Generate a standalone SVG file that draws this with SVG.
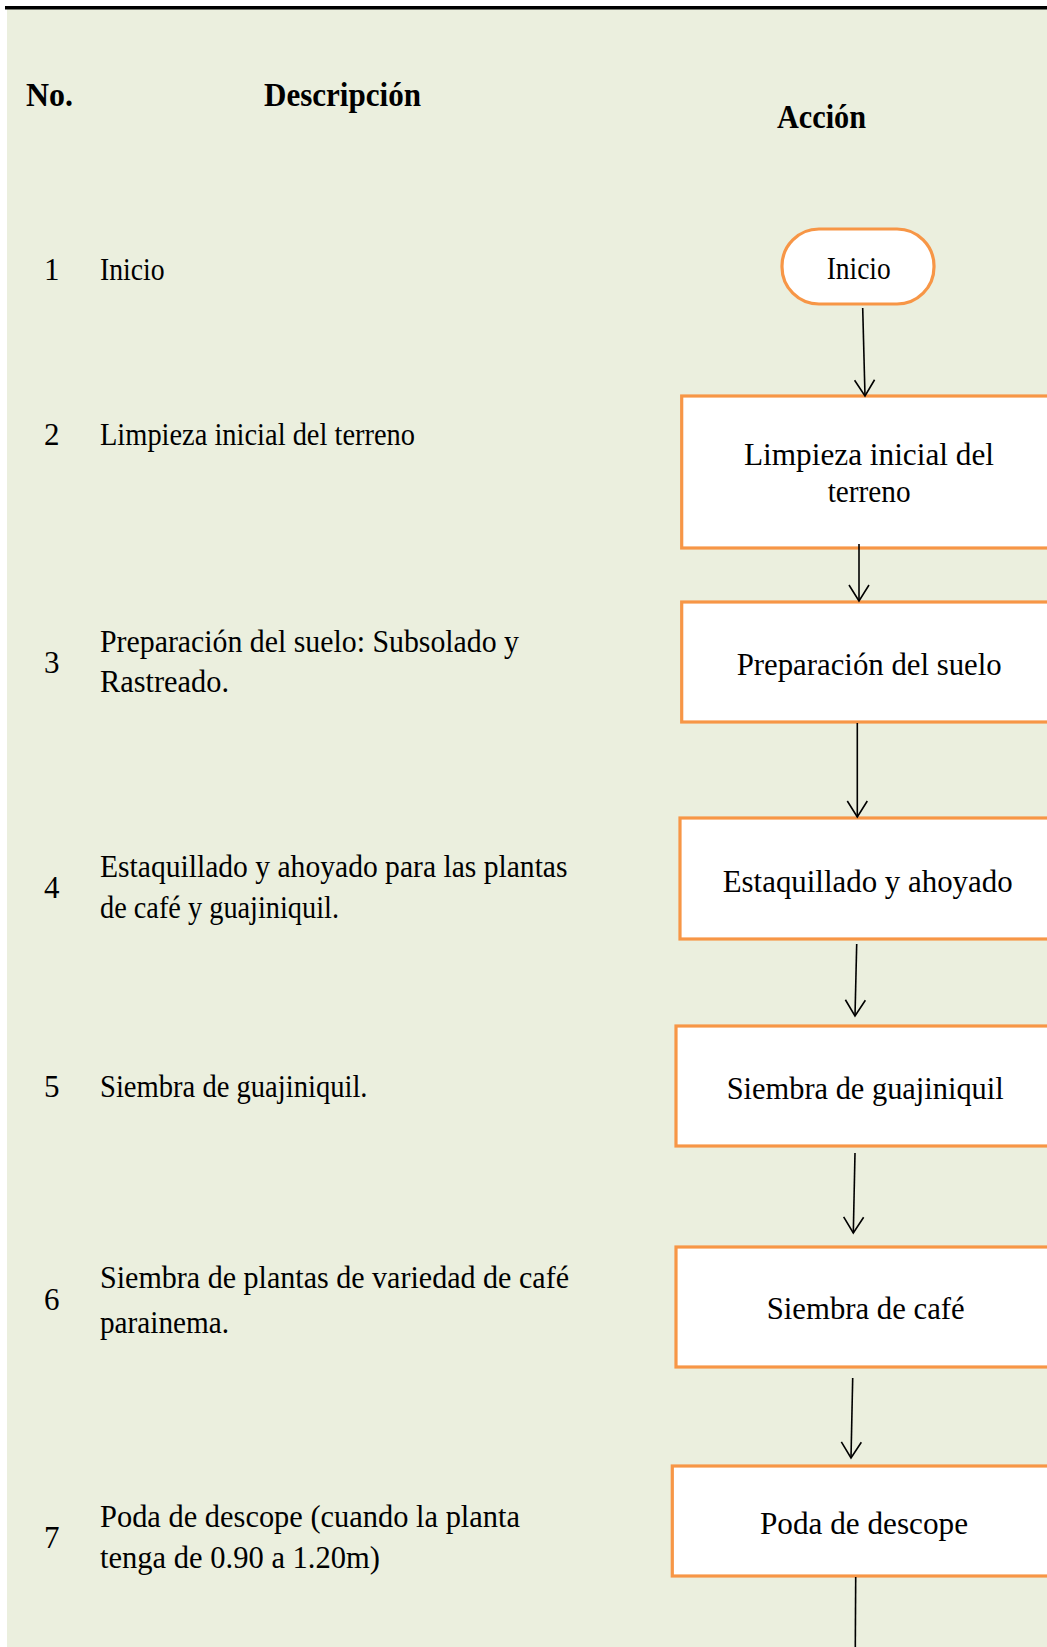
<svg xmlns="http://www.w3.org/2000/svg" width="1047" height="1647" viewBox="0 0 1047 1647">
  <style>
    .hdr { font-family: "Liberation Serif", "Times New Roman", Times, serif; font-weight: bold; font-size: 33px; fill: #000; }
    .txt { font-family: "Liberation Serif", "Times New Roman", Times, serif; font-size: 31px; fill: #000; }
    .box { fill: #FFFFFF; stroke: #F79646; stroke-width: 3.2; }
    .conn { stroke: #000; stroke-width: 1.6; fill: none; }
  </style>
  <defs>
    <marker id="arrow" markerUnits="userSpaceOnUse" markerWidth="20" markerHeight="24" refX="17" refY="11" orient="auto" viewBox="0 0 20 22">
      <path d="M1,1 L17,11 L1,21" fill="none" stroke="#000" stroke-width="1.6"/>
    </marker>
  </defs>

  <rect x="0" y="0" width="1047" height="1647" fill="#FFFFFF"/>
  <rect id="background" x="7" y="9" width="1040" height="1638" fill="#EBEFDE"/>
  <rect id="top-rule" x="5" y="6" width="1042" height="3.5" fill="#000"/>

  <g id="headers">
    <text class="hdr" x="26" y="106" textLength="47" lengthAdjust="spacingAndGlyphs">No.</text>
    <text class="hdr" x="264" y="106" textLength="157" lengthAdjust="spacingAndGlyphs">Descripción</text>
    <text class="hdr" x="777" y="128" textLength="89" lengthAdjust="spacingAndGlyphs">Acción</text>
  </g>

  <g id="descriptions">
    <g id="row1">
      <text class="txt" x="44" y="280">1</text>
      <text class="txt" x="100" y="280" textLength="64.6" lengthAdjust="spacingAndGlyphs">Inicio</text>
    </g>
    <g id="row2">
      <text class="txt" x="44" y="445">2</text>
      <text class="txt" x="100" y="445" textLength="315" lengthAdjust="spacingAndGlyphs">Limpieza inicial del terreno</text>
    </g>
    <g id="row3">
      <text class="txt" x="44" y="673">3</text>
      <text class="txt" x="100" y="652" textLength="419" lengthAdjust="spacingAndGlyphs">Preparación del suelo: Subsolado y</text>
      <text class="txt" x="100" y="692" textLength="129" lengthAdjust="spacingAndGlyphs">Rastreado.</text>
    </g>
    <g id="row4">
      <text class="txt" x="44" y="898">4</text>
      <text class="txt" x="100" y="877" textLength="467.5" lengthAdjust="spacingAndGlyphs">Estaquillado y ahoyado para las plantas</text>
      <text class="txt" x="100" y="918" textLength="239" lengthAdjust="spacingAndGlyphs">de café y guajiniquil.</text>
    </g>
    <g id="row5">
      <text class="txt" x="44" y="1097">5</text>
      <text class="txt" x="100" y="1097" textLength="267.5" lengthAdjust="spacingAndGlyphs">Siembra de guajiniquil.</text>
    </g>
    <g id="row6">
      <text class="txt" x="44" y="1310">6</text>
      <text class="txt" x="100" y="1288" textLength="469" lengthAdjust="spacingAndGlyphs">Siembra de plantas de variedad de café</text>
      <text class="txt" x="100" y="1333" textLength="129" lengthAdjust="spacingAndGlyphs">parainema.</text>
    </g>
    <g id="row7">
      <text class="txt" x="44" y="1548">7</text>
      <text class="txt" x="100" y="1527" textLength="420" lengthAdjust="spacingAndGlyphs">Poda de descope (cuando la planta</text>
      <text class="txt" x="100" y="1568" textLength="280" lengthAdjust="spacingAndGlyphs">tenga de 0.90 a 1.20m)</text>
    </g>
  </g>

  <g id="node-inicio">
    <rect class="box" x="782" y="229" width="152" height="75" rx="37" ry="37"/>
    <text class="txt" x="826.7" y="279.3" textLength="64" lengthAdjust="spacingAndGlyphs">Inicio</text>
  </g>
  <g id="node-limpieza">
    <rect class="box" x="681.7" y="396" width="380" height="152"/>
    <text class="txt" x="744" y="465" textLength="250" lengthAdjust="spacingAndGlyphs">Limpieza inicial del</text>
    <text class="txt" x="827.7" y="502" textLength="83" lengthAdjust="spacingAndGlyphs">terreno</text>
  </g>
  <g id="node-preparacion">
    <rect class="box" x="681.7" y="602" width="380" height="120"/>
    <text class="txt" x="736.7" y="675" textLength="265" lengthAdjust="spacingAndGlyphs">Preparación del suelo</text>
  </g>
  <g id="node-estaquillado">
    <rect class="box" x="680" y="818" width="380" height="121"/>
    <text class="txt" x="722.7" y="892" textLength="290" lengthAdjust="spacingAndGlyphs">Estaquillado y ahoyado</text>
  </g>
  <g id="node-siembra-guajiniquil">
    <rect class="box" x="676" y="1026" width="385" height="120"/>
    <text class="txt" x="726.7" y="1099" textLength="277" lengthAdjust="spacingAndGlyphs">Siembra de guajiniquil</text>
  </g>
  <g id="node-siembra-cafe">
    <rect class="box" x="676" y="1247" width="385" height="120"/>
    <text class="txt" x="766.7" y="1319" textLength="198" lengthAdjust="spacingAndGlyphs">Siembra de café</text>
  </g>
  <g id="node-poda">
    <rect class="box" x="672.3" y="1466" width="390" height="110"/>
    <text class="txt" x="760" y="1534" textLength="208" lengthAdjust="spacingAndGlyphs">Poda de descope</text>
  </g>

  <g id="connectors">
    <line class="conn" x1="862.7" y1="308" x2="865" y2="396" marker-end="url(#arrow)"/>
    <line class="conn" x1="859" y1="544" x2="859" y2="601" marker-end="url(#arrow)"/>
    <line class="conn" x1="857.3" y1="723" x2="857.3" y2="817" marker-end="url(#arrow)"/>
    <line class="conn" x1="856.7" y1="944" x2="855" y2="1016" marker-end="url(#arrow)"/>
    <line class="conn" x1="855" y1="1153" x2="853.3" y2="1233" marker-end="url(#arrow)"/>
    <line class="conn" x1="852.7" y1="1378" x2="851" y2="1458" marker-end="url(#arrow)"/>
    <line class="conn" x1="855.7" y1="1577" x2="855.3" y2="1647"/>
  </g>
</svg>
